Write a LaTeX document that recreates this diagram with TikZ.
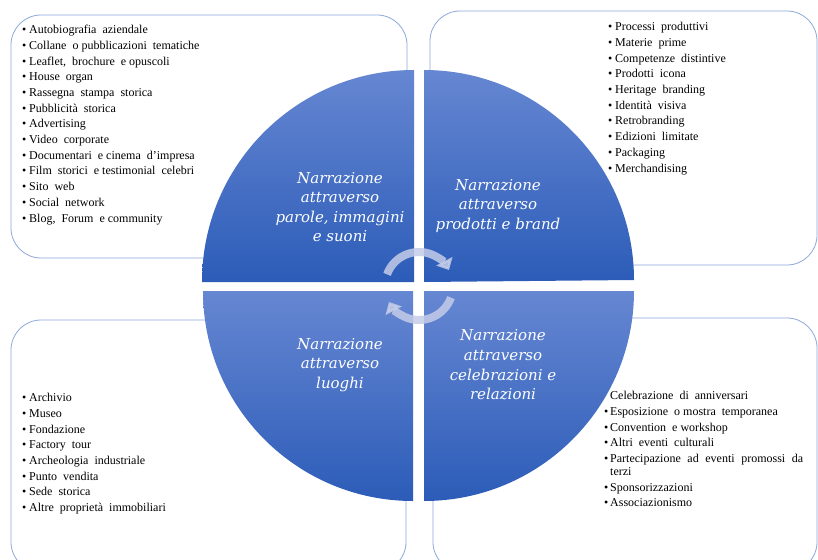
\documentclass[tikz,border=0pt]{standalone}
\usepackage{fontspec}
\setmainfont{Liberation Serif}
\newfontfamily\lblfont{DejaVu Serif}
\usetikzlibrary{arrows.meta}
\definecolor{qtop}{RGB}{102,135,210}
\definecolor{qbot}{RGB}{44,92,184}
\definecolor{boxline}{RGB}{142,169,219}
\definecolor{cyccol}{RGB}{196,204,232}
\newcommand\lstbul{\makebox[7pt][l]{\textbullet}}
\begin{document}
\begin{tikzpicture}[x=1pt,y=-1pt,
  panel/.style={draw=boxline, line width=0.8pt, rounded corners=30pt},
  quad/.style={top color=qtop, bottom color=qbot, draw=none},
  lbl/.style={text=white, font=\lblfont\itshape\fontsize{15}{19.6}\selectfont, align=center, inner sep=0},
  lst/.style={anchor=north west, inner sep=0, align=left, font=\fontsize{12}{15.7}\selectfont},
  cycarrow/.style={draw=cyccol, line width=8pt, opacity=0.85, -{Triangle[width=18pt,length=10pt]}}]
\clip (0,0) rectangle (818,559);
\fill[white] (0,0) rectangle (818,559);
% panels
\draw[panel] (11,15) rectangle (407,258);
\draw[panel] (430,11) rectangle (817,265);
\draw[panel] (11,320) rectangle (406,572);
\draw[panel] (433,318) rectangle (817,572);
% quadrants
\shade[quad] (414,282) -- (202,282) arc[start angle=180, end angle=270, radius=212] -- cycle;
\shade[quad] (424,282) -- (424,70) arc[start angle=270, end angle=360, radius=210] -- cycle;
\shade[quad] (413,291) -- (203,291) arc[start angle=180, end angle=90, radius=210] -- cycle;
\shade[quad] (424,291) -- (634,291) arc[start angle=0, end angle=90, radius=210] -- cycle;
% cycle arrows
\begin{scope}[shift={(419,286)}, y=1pt]
  \draw[cycarrow] (160:34) arc[start angle=160, end angle=28, radius=34];
  \draw[cycarrow] (-20:34) arc[start angle=-20, end angle=-152, radius=34];
\end{scope}
% labels
\node[lbl] (l1) at (340,207) {Narrazione\\attraverso\\parole, immagini\\e suoni};
\node[lbl] (l2) at (498,206) {Narrazione\\attraverso\\prodotti e brand};
\node[lbl] (l3) at (340,365) {Narrazione\\attraverso\\luoghi};
\node[lbl] (l4) at (503,365) {Narrazione\\attraverso\\celebrazioni e\\relazioni};
% lists
\node[lst] (t1) at (22,25) {\lstbul Autobiografia\ \ aziendale\\
\lstbul Collane\ \ o pubblicazioni\ \ tematiche\\
\lstbul Leaflet,\ \ brochure\ \ e opuscoli\\
\lstbul House\ \ organ\\
\lstbul Rassegna\ \ stampa\ \ storica\\
\lstbul Pubblicità\ \ storica\\
\lstbul Advertising\\
\lstbul Video\ \ corporate\\
\lstbul Documentari\ \ e cinema\ \ d'impresa\\
\lstbul Film\ \ storici\ \ e testimonial\ \ celebri\\
\lstbul Sito\ \ web\\
\lstbul Social\ \ network\\
\lstbul Blog,\ \ Forum\ \ e community};
\node[lst] (t2) at (608,22.2) {\lstbul Processi\ \ produttivi\\
\lstbul Materie\ \ prime\\
\lstbul Competenze\ \ distintive\\
\lstbul Prodotti\ \ icona\\
\lstbul Heritage\ \ branding\\
\lstbul Identità\ \ visiva\\
\lstbul Retrobranding\\
\lstbul Edizioni\ \ limitate\\
\lstbul Packaging\\
\lstbul Merchandising};
\node[lst] (t3) at (22,393.2) {\lstbul Archivio\\
\lstbul Museo\\
\lstbul Fondazione\\
\lstbul Factory\ \ tour\\
\lstbul Archeologia\ \ industriale\\
\lstbul Punto\ \ vendita\\
\lstbul Sede\ \ storica\\
\lstbul Altre\ \ proprietà\ \ immobiliari};
\node[lst] (t4) at (604,391.2) {\hspace*{6pt}Celebrazione\ \ di\ \ anniversari\\
\makebox[6pt][l]{\textbullet}Esposizione\ \ o mostra\ \ temporanea\\
\makebox[6pt][l]{\textbullet}Convention\ \ e workshop\\
\makebox[6pt][l]{\textbullet}Altri\ \ eventi\ \ culturali\\
\makebox[6pt][l]{\textbullet}\makebox[193pt][s]{Partecipazione ad eventi promossi da}\\[-2.7pt]
\hspace*{6pt}terzi\\
\makebox[6pt][l]{\textbullet}Sponsorizzazioni\\
\makebox[6pt][l]{\textbullet}Associazionismo};
\end{tikzpicture}
\end{document}
